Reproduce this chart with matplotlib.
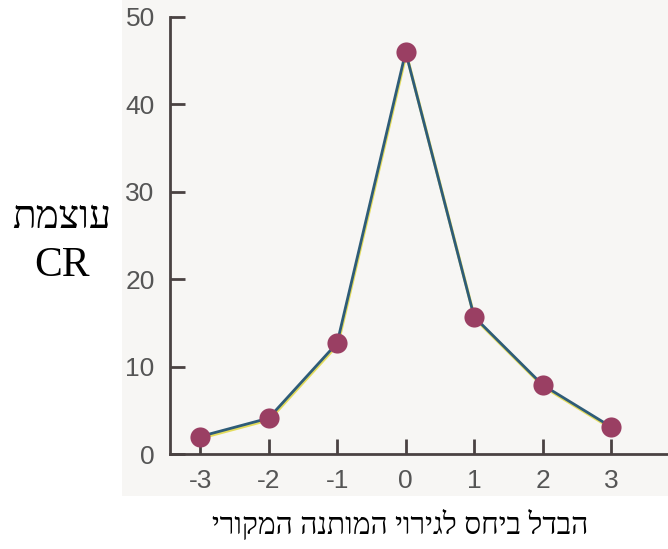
import matplotlib
matplotlib.use("Agg")
import matplotlib.pyplot as plt
import matplotlib.transforms as mtransforms
from matplotlib.patches import Rectangle

# dati
shifts = [-3, -2, -1, 0, 1, 2, 3]
cr_strength = [2.0, 4.1, 12.7, 46.0, 15.7, 7.9, 3.1]
y_ticks = [0, 10, 20, 30, 40, 50]

ylabel_top = "עוצמת"
ylabel_bottom = "CR"
xlabel = "הבדל ביחס לגירוי המותנה המקורי"


def visual(s):
    """matplotlib non gestisce il bidi: inverto la stringa ebraica"""
    return s[::-1]


fig = plt.figure(figsize=(6.68, 5.49), dpi=100)
fig.patch.set_facecolor("white")

# sfondo grigino della scansione (sotto agli assi)
fig.patches.append(Rectangle((122 / 668, 1 - 496 / 549), 1 - 122 / 668, 496 / 549,
                             transform=fig.transFigure, facecolor="#f7f6f4",
                             edgecolor="none", zorder=-5))

ax = fig.add_axes([170 / 668, 95 / 549, 498 / 668, 437 / 549])
ax.set_facecolor("none")

ax.set_xlim(-3.44, 3.83)
ax.set_ylim(0, 50)

# linea con alone giallo spostato verso il basso
shadow = mtransforms.offset_copy(ax.transData, fig=fig, x=0.6, y=-1.6, units="dots")
ax.plot(shifts, cr_strength, color="#e4dc5c", lw=2.2, transform=shadow, zorder=2,
        clip_on=False)
ax.plot(shifts, cr_strength, color="#2e5c78", lw=2.0, zorder=3, clip_on=False)
ax.plot(shifts, cr_strength, "o", color="#9a3f63", markersize=14.5, mec="none",
        zorder=4, clip_on=False)

for side in ("top", "right"):
    ax.spines[side].set_visible(False)
for side in ("left", "bottom"):
    ax.spines[side].set_color("#4a4242")
    ax.spines[side].set_linewidth(2.0)

ax.set_xticks(shifts)
ax.set_xticklabels([str(s) for s in shifts])
ax.set_yticks(y_ticks)
ax.tick_params(direction="in", length=11, width=2.0, color="#4a4242",
               labelsize=19, labelcolor="#555555", pad=11)
for lab in ax.get_xticklabels() + ax.get_yticklabels():
    lab.set_family(["Liberation Sans Narrow", "Liberation Sans", "DejaVu Sans"])

serif = ["Liberation Serif", "DejaVu Serif"]
fig.text(62 / 668, 1 - 218 / 549, visual(ylabel_top), family=serif, fontsize=28,
         ha="center", va="center")
fig.text(62 / 668, 1 - 266 / 549, ylabel_bottom, family=serif, fontsize=30,
         ha="center", va="center")
fig.text(400 / 668, 1 - 524 / 549, visual(xlabel), family=serif, fontsize=21.5,
         ha="center", va="center")

fig.savefig("out.png", dpi=100)
